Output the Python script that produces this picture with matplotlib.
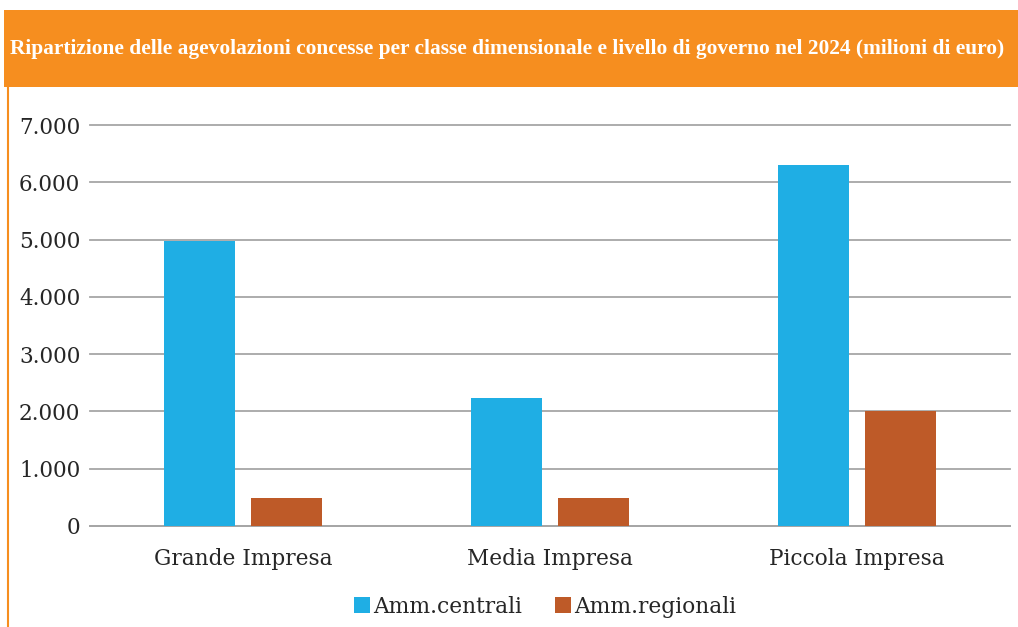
import matplotlib
matplotlib.use("Agg")
import matplotlib.pyplot as plt
import numpy as np
from matplotlib.patches import Rectangle
from matplotlib.lines import Line2D

categories = ["Grande Impresa", "Media Impresa", "Piccola Impresa"]
series_names = ["Amm.centrali", "Amm.regionali"]
centrali = [4980, 2230, 6300]
regionali = [490, 490, 2000]
yticks = [0, 1000, 2000, 3000, 4000, 5000, 6000, 7000]
ytick_labels = ["0", "1.000", "2.000", "3.000", "4.000", "5.000", "6.000", "7.000"]
title = "Ripartizione delle agevolazioni concesse per classe dimensionale e livello di governo nel 2024 (milioni di euro)"

BLUE = "#1FAEE4"
RUST = "#BE5A28"
ORANGE = "#F68E1F"
TEXT = "#262626"
GRID = "#A6A6A6"

W, H = 1018, 627
fig = plt.figure(figsize=(W / 100, H / 100), dpi=100)
fig.patch.set_facecolor("white")

# header band
fig.patches.append(Rectangle((4 / W, 1 - 87 / H), 1.0, 77 / H, transform=fig.transFigure,
                             facecolor=ORANGE, edgecolor="none", zorder=0))
# left orange border line
fig.lines.append(Line2D([8 / W, 8 / W], [0, 1 - 87 / H], transform=fig.transFigure,
                        color=ORANGE, linewidth=1.5))
fig.text(10 / W, 1 - 49 / H, title, color="white", fontsize=15.4, fontweight="bold",
         family="Liberation Serif", va="center", ha="left")

ax = fig.add_axes([90 / W, 1 - 526 / H, 920 / W, 401 / H])
x = np.arange(len(categories))
bw = 0.232
off = 0.142
ax.bar(x - off, centrali, width=bw, color=BLUE, label=series_names[0], zorder=3)
ax.bar(x + off, regionali, width=bw, color=RUST, label=series_names[1], zorder=3)

ax.set_xlim(-0.5, 2.5)
ax.set_ylim(0, 7000)
ax.set_yticks(yticks)
ax.set_yticklabels(ytick_labels)
ax.yaxis.grid(True, color=GRID, linewidth=1.3, zorder=0)
for g in ax.get_ygridlines():
    g.set_clip_on(False)
ax.set_axisbelow(True)
for s in ["top", "right", "left"]:
    ax.spines[s].set_visible(False)
ax.spines["bottom"].set_color(GRID)
ax.spines["bottom"].set_linewidth(1.3)
ax.set_xticks(x)
ax.set_xticklabels(categories)
ax.tick_params(axis="both", length=0, colors=TEXT)
ax.tick_params(axis="y", pad=7, labelsize=15.5)
ax.tick_params(axis="x", pad=16, labelsize=15.6)
for lab in ax.get_xticklabels() + ax.get_yticklabels():
    lab.set_family("DejaVu Serif")

leg = fig.legend(loc="center", bbox_to_anchor=(545 / W, 1 - 607 / H), ncol=2, frameon=False,
                 prop={"family": "DejaVu Serif", "size": 15.7}, handlelength=0.75, handleheight=0.75,
                 handletextpad=0.15, columnspacing=1.5)
for t in leg.get_texts():
    t.set_color(TEXT)

fig.savefig("out.png", dpi=100)
